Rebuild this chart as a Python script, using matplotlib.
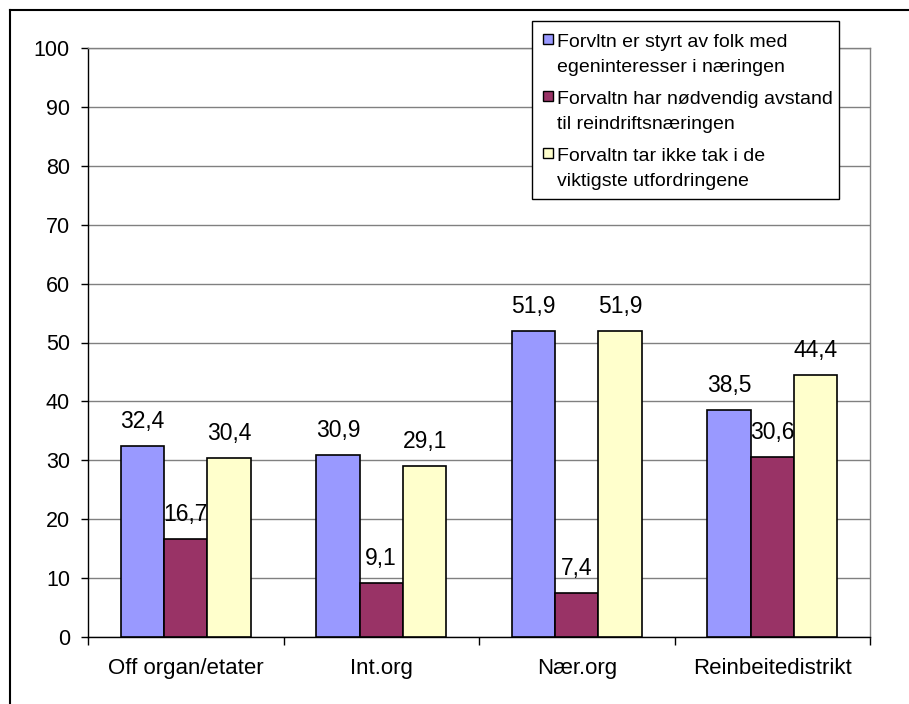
import matplotlib
matplotlib.use("Agg")
import matplotlib.pyplot as plt
import numpy as np
from matplotlib.patches import Rectangle
from matplotlib.lines import Line2D
from matplotlib.legend_handler import HandlerPatch, update_from_first_child
from matplotlib.container import BarContainer

plt.rcParams['font.family'] = ['Liberation Sans', 'DejaVu Sans']

categories = ["Off organ/etater", "Int.org", "Nær.org", "Reinbeitedistrikt"]
series_names = [
    "Forvltn er styrt av folk med\negeninteresser i næringen",
    "Forvaltn har nødvendig avstand\ntil reindriftsnæringen",
    "Forvaltn tar ikke tak i de\nviktigste utfordringene",
]
vals_styrt = [32.4, 30.9, 51.9, 38.5]
vals_avstand = [16.7, 9.1, 7.4, 30.6]
vals_tak = [30.4, 29.1, 51.9, 44.4]
series_values = [vals_styrt, vals_avstand, vals_tak]
colors = ["#9999FF", "#993366", "#FFFFCC"]
yticks = [0, 10, 20, 30, 40, 50, 60, 70, 80, 90, 100]

W, H = 909, 704
fig = plt.figure(figsize=(W / 100, H / 100), dpi=100)
ax = fig.add_axes([88 / W, 1 - 637 / H, (870 - 88) / W, (637 - 48) / H])

x = np.arange(len(categories))
bw = 0.222
handles = []
for i, (vals, col, name) in enumerate(zip(series_values, colors, series_names)):
    bars = ax.bar(x + (i - 1) * bw, vals, width=bw, color=col, edgecolor="black",
                  linewidth=1.2, label=name, zorder=3)
    handles.append(bars)
    for xi, v in zip(x + (i - 1) * bw, vals):
        ax.annotate(f"{v:.1f}".replace(".", ","), (xi, v), xytext=(0, 13),
                    textcoords="offset points", ha="center", va="baseline",
                    fontsize=16.5, zorder=4)

ax.set_ylim(0, 100)
ax.set_xlim(-0.5, 3.5)
ax.set_yticks(yticks)
ax.set_yticklabels([str(t) for t in yticks], fontsize=15.5)
ax.yaxis.grid(True, color="#808080", linewidth=1, zorder=0)
ax.set_axisbelow(True)
ax.tick_params(axis="y", direction="out", length=5, width=1, pad=8, color="black")

ax.set_xticks(np.arange(-0.5, 3.6, 1.0))
ax.set_xticklabels([])
ax.set_xticks(x, minor=True)
ax.set_xticklabels(categories, minor=True, fontsize=16)
ax.tick_params(axis="x", which="major", direction="out", length=6, width=1, color="black")
ax.tick_params(axis="x", which="minor", length=0, pad=15)

for s in ["left", "bottom"]:
    ax.spines[s].set_color("black")
    ax.spines[s].set_linewidth(1)
for s in ["right", "top"]:
    ax.spines[s].set_color("#808080")
    ax.spines[s].set_linewidth(1)


def make_square(legend, orig_handle, xdescent, ydescent, width, height, fontsize):
    s = 0.52 * fontsize
    x0 = -xdescent + width - s
    y0 = -ydescent + height / 2 - s / 2 + 0.8 * fontsize
    return Rectangle((x0, y0), s, s)


# legend frame drawn separately (tighter horizontal padding than vertical)
ax.add_artist(Rectangle((532 / W, 1 - 199 / H), (839 - 532) / W, (199 - 21) / H,
                        transform=fig.transFigure, facecolor="white", edgecolor="black",
                        linewidth=1, zorder=9, clip_on=False))

leg = ax.legend(handles=handles, labels=series_names, loc="upper left",
                bbox_to_anchor=(526 / W, 1 - 21 / H), bbox_transform=fig.transFigure,
                borderaxespad=0, fontsize=14, frameon=False,
                handlelength=0.75, handleheight=0.7,
                handletextpad=0.2, labelspacing=0.75, borderpad=0.65,
                handler_map={BarContainer: HandlerPatch(patch_func=make_square,
                                                        update_func=update_from_first_child)})
for t in leg.get_texts():
    t.set_linespacing(1.65)
for h in leg.legend_handles:
    h.set_edgecolor("black")
    h.set_linewidth(1)
leg.set_zorder(10)

# outer chart border (left and top visible)
fig.add_artist(Line2D([10 / W, 10 / W], [0, 1 - 10 / H], transform=fig.transFigure,
                      color="black", linewidth=1.5))
fig.add_artist(Line2D([10 / W, 1], [1 - 10 / H, 1 - 10 / H], transform=fig.transFigure,
                      color="black", linewidth=1.5))

fig.savefig("out.png", dpi=100)
